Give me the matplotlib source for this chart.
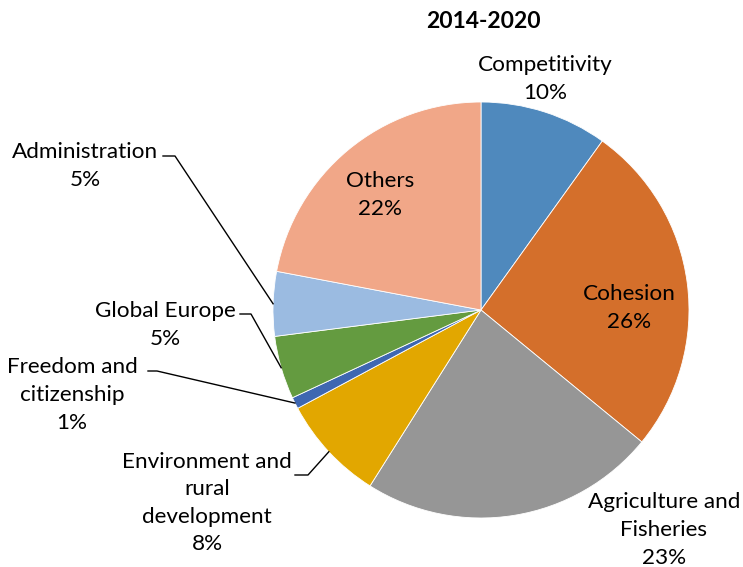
import numpy as np
import matplotlib.pyplot as plt

plt.rcParams['font.family'] = ['Lato', 'DejaVu Sans']

# budget shares 2014-2020 (%), clockwise from the top
categories = ['Competitivity', 'Cohesion', 'Agriculture and\nFisheries',
              'Environment and\nrural\ndevelopment', 'Freedom and\ncitizenship',
              'Global Europe', 'Administration', 'Others']
shares = [9.9, 26.0, 23.0, 8.2, 0.9, 4.9, 5.0, 22.0]
colors = ['#4F89BD', '#D46F2B', '#969696', '#E2A700', '#3E67B1',
          '#649B40', '#9BBBE1', '#F1A788']

W, H = 743, 567
fig = plt.figure(figsize=(W / 100, H / 100), dpi=100)
ax = fig.add_axes([0, 0, 1, 1])

cx, cy, r = 481, H - 310, 208
wedges, _ = ax.pie(shares, colors=colors, startangle=90, counterclock=False,
                   center=(cx, cy), radius=r, frame=True,
                   wedgeprops=dict(edgecolor='white', linewidth=0.6))
ax.set_xlim(0, W)
ax.set_ylim(0, H)
ax.set_aspect('equal')
ax.axis('off')

fs = 16.2
labels = ['%s\n%d%%' % (c, round(s)) for c, s in zip(categories, shares)]

# label anchor (pixel x, pixel y from top) and elbow of leader line (None = no line)
label_pos = [(545, 79), (629, 308), (664, 530), (207, 503), (72, 395),
             (165, 325), (85, 166), (380, 195)]
leaders = [None, None, None,
           [(295, 475), (308, 475)],
           [(148, 371), (157, 371)],
           [(240, 314), (251, 314)],
           [(163, 156), (175, 156)],
           None]

for w, lab, (lx, ly), ld in zip(wedges, labels, label_pos, leaders):
    ax.text(lx, H - ly, lab, ha='center', va='center', fontsize=fs,
            linespacing=1.47, color='black')
    if ld is not None:
        mid = np.deg2rad((w.theta1 + w.theta2) / 2)
        ex, ey = cx + r * np.cos(mid), cy + r * np.sin(mid)
        xs = [ld[0][0], ld[1][0], ex]
        ys = [H - ld[0][1], H - ld[1][1], ey]
        ax.plot(xs, ys, color='black', linewidth=1.0)

ax.text(483, H - 21, '2014-2020', ha='center', va='center', fontsize=16.5,
        fontweight='bold')

fig.savefig('out.png', dpi=100)
